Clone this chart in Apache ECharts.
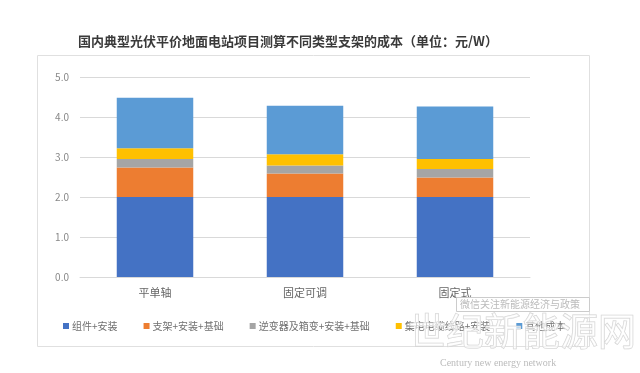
<!DOCTYPE html>
<html><head><meta charset="utf-8">
<script src="https://cdn.jsdelivr.net/npm/echarts@6/dist/echarts.min.js"></script>
<style>html,body{margin:0;padding:0;background:#fff}#c{width:640px;height:373px}</style>
</head><body><div id="c"></div>
<script>
const categories = ['平单轴', '固定可调', '固定式'];
const seriesNames = ['组件+安装', '支架+安装+基础', '逆变器及箱变+安装+基础', '集电电缆线路+安装', '其他成本'];
const modules = [2.00, 2.00, 2.00];
const brackets = [0.74, 0.59, 0.49];
const inverters = [0.21, 0.20, 0.21];
const collection = [0.27, 0.28, 0.25];
const others = [1.26, 1.21, 1.31];
const yTicks = [0, 1, 2, 3, 4, 5];
const colors = ['#4472C4', '#ED7D31', '#A5A5A5', '#FFC000', '#5B9BD5'];
const values = [modules, brackets, inverters, collection, others];

const chart = echarts.init(document.getElementById('c'), null, {renderer: 'canvas'});
const font = '"Noto Sans CJK SC", "Noto Sans", sans-serif';
chart.setOption({
  animation: false,
  textStyle: {fontFamily: font},
  title: {
    text: '国内典型光伏平价地面电站项目测算不同类型支架的成本（单位：元/W）',
    left: 73, top: 30,
    textStyle: {fontSize: 13, fontWeight: 'bold', color: '#3a3a3a', fontFamily: font}
  },
  graphic: [
    {type: 'rect', shape: {x: 37.5, y: 55.5, width: 552, height: 291}, style: {fill: 'none', stroke: '#e0e0e0', lineWidth: 1}, z: -1},
    {type: 'rect', shape: {x: 456.5, y: 297.5, width: 133, height: 14}, style: {fill: '#fff', stroke: '#ccc', lineWidth: 1}, z: 10},
    {type: 'text', x: 460, y: 299, style: {text: '微信关注新能源经济与政策', fontSize: 10, fill: '#bbb', fontFamily: font}, z: 11},
    {type: 'text', x: 408, y: 312, style: {text: '世纪新能源网', fontSize: 38, fill: 'rgba(255,255,255,0.6)', stroke: '#d0d0d0', lineWidth: 1, fontFamily: font}, z: 12},
    {type: 'text', x: 440, y: 358, style: {text: 'Century new energy network', fontSize: 10, fill: '#bbb', fontFamily: '"Liberation Serif", serif'}, z: 12}
  ],
  legend: {
    data: seriesNames,
    left: 58, top: 316,
    itemWidth: 6, itemHeight: 6, itemGap: 26,
    icon: 'rect',
    textStyle: {fontSize: 10, color: '#707070', padding: [0, 0, 0, -2]}
  },
  grid: {left: 80, right: 110, top: 77, bottom: 96, containLabel: false},
  xAxis: {
    type: 'category', data: categories,
    axisLine: {lineStyle: {color: '#d9d9d9'}},
    axisTick: {show: false},
    axisLabel: {fontSize: 11, color: '#666', margin: 10}
  },
  yAxis: {
    type: 'value', min: yTicks[0], max: yTicks[yTicks.length - 1], interval: 1,
    axisLine: {show: false}, axisTick: {show: false},
    axisLabel: {fontSize: 10, color: '#888', margin: 11, formatter: v => v.toFixed(1)},
    splitLine: {lineStyle: {color: '#d9d9d9'}}
  },
  series: seriesNames.map((n, i) => ({
    name: n, type: 'bar', stack: 'total', data: values[i],
    barWidth: '51%', itemStyle: {color: colors[i]}
  }))
});
</script></body></html>
